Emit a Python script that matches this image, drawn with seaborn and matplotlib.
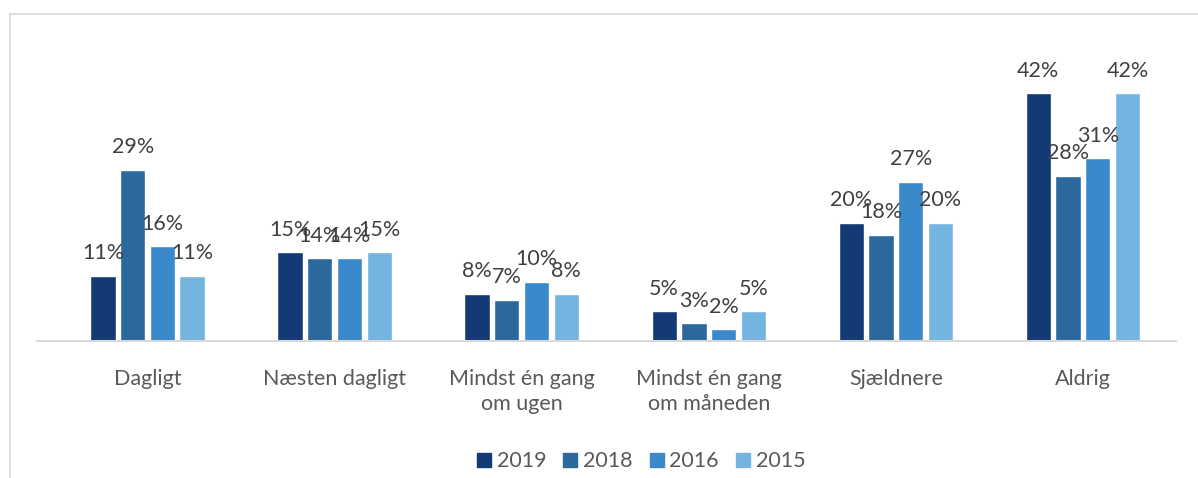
import pandas as pd
import matplotlib.pyplot as plt
import seaborn as sns
from matplotlib.lines import Line2D

# Data (percent)
categories = ['Dagligt', 'Næsten dagligt', 'Mindst én gang\nom ugen',
              'Mindst én gang\nom måneden', 'Sjældnere', 'Aldrig']
years = ['2019', '2018', '2016', '2015']
v2019 = [11, 15, 8, 5, 20, 42]
v2018 = [29, 14, 7, 3, 18, 28]
v2016 = [16, 14, 10, 2, 27, 31]
v2015 = [11, 15, 8, 5, 20, 42]
colors = ['#133a75', '#2b689e', '#3a89cb', '#74b4e1']

rows = []
for year, vals in zip(years, [v2019, v2018, v2016, v2015]):
    for cat, v in zip(categories, vals):
        rows.append({'category': cat, 'year': year, 'value': v})
data = pd.DataFrame(rows)

sns.set_style('white')
plt.rcParams['font.family'] = ['Lato', 'DejaVu Sans']

fig = plt.figure(figsize=(11.98, 4.78), dpi=100)
ax = fig.add_axes([0.031, 0.287, 0.951, 0.592])

sns.barplot(data=data, x='category', y='value', hue='year', hue_order=years,
            palette=colors, saturation=1, width=0.635, gap=0.15, ax=ax,
            legend=False)

# Data labels
for cont, vals in zip(ax.containers, [v2019, v2018, v2016, v2015]):
    ax.bar_label(cont, labels=[f'{v}%' for v in vals], padding=9,
                 fontsize=15.5, color='#404040')

ax.set_ylim(0, 48)
ax.set_xlim(-0.59, 5.5)
ax.set_xlabel('')
ax.set_ylabel('')
ax.set_yticks([])
for s in ['top', 'right', 'left']:
    ax.spines[s].set_visible(False)
ax.spines['bottom'].set_color('#d9d9d9')
ax.spines['bottom'].set_linewidth(1.5)
ax.tick_params(axis='x', length=0, pad=20, labelsize=15.5, labelcolor='#595959')
for lab in ax.get_xticklabels():
    lab.set_linespacing(1.35)
    lab.set_verticalalignment('top')

# Legend
handles = [Line2D([0], [0], marker='s', color='none', markerfacecolor=c,
                  markeredgecolor=c, markersize=9.5) for c in colors]
fig.legend(handles, years, loc='center', bbox_to_anchor=(0.535, 0.035), ncol=4,
           frameon=False, fontsize=15.5, labelcolor='#595959',
           handletextpad=0.25, columnspacing=0.75, handlelength=0.7)

# Chart area border (partially cropped in the original)
fig.add_artist(Line2D([10 / 1198, 1], [1 - 14 / 478, 1 - 14 / 478],
                      transform=fig.transFigure, color='#d9d9d9', lw=1.2))
fig.add_artist(Line2D([10 / 1198, 10 / 1198], [0, 1 - 14 / 478],
                      transform=fig.transFigure, color='#d9d9d9', lw=1.2))

fig.savefig('out.png', dpi=100)
